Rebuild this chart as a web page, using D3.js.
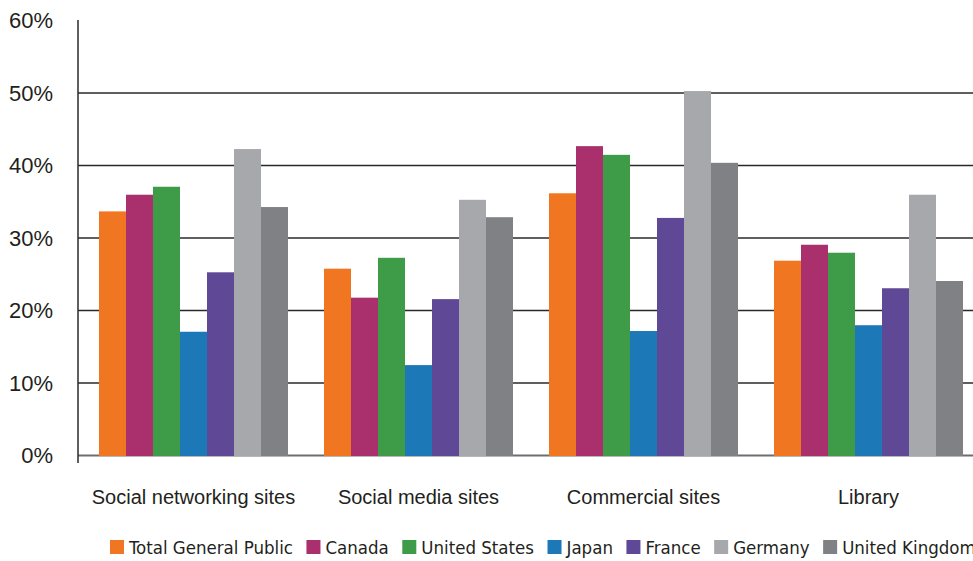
<!DOCTYPE html>
<html>
<head>
<meta charset="utf-8">
<script src="https://cdn.jsdelivr.net/npm/d3@7"></script>
<style>
  body { margin: 0; background: #fff; }
  text { font-family: "Liberation Sans Narrow", "DejaVu Sans Condensed", "Open Sans", sans-serif; fill: #231f20; }
</style>
</head>
<body>
<div id="chart"></div>
<script>
let categories = ['Social networking sites', 'Social media sites', 'Commercial sites', 'Library'];
let series = ['Total General Public', 'Canada', 'United States', 'Japan', 'France', 'Germany', 'United Kingdom'];
let colors = ['#f07622', '#a92f6d', '#3e9b47', '#1c78b7', '#5f4896', '#a7a8ac', '#808184'];

// one row per series, one value per category (percent)
let totalPublic = [33.6, 25.7, 36.1, 26.8];
let canada = [35.9, 21.7, 42.6, 29.0];
let unitedStates = [37.0, 27.2, 41.4, 27.9];
let japan = [17.0, 12.4, 17.1, 17.9];
let france = [25.2, 21.5, 32.7, 23.0];
let germany = [42.2, 35.2, 50.2, 35.9];
let unitedKingdom = [34.2, 32.8, 40.3, 24.0];
let values = [totalPublic, canada, unitedStates, japan, france, germany, unitedKingdom];

let yTicks = [0, 10, 20, 30, 40, 50, 60];

let width = 973;
let height = 561;
let margin = { top: 20, right: 0, bottom: 106, left: 78 };

let svg = d3.select('#chart').append('svg')
    .attr('width', width)
    .attr('height', height);

let y = d3.scaleLinear()
    .domain([0, 60])
    .range([height - margin.bottom, margin.top]);

let x0 = d3.scaleBand()
    .domain(categories)
    .range([margin.left + 3, margin.left + 903])
    .paddingInner(0.16)
    .paddingOuter(0.08);

let x1 = d3.scaleBand()
    .domain(series)
    .range([0, x0.bandwidth()]);

// gridlines + ticks
let yAxis = svg.append('g')
    .attr('transform', `translate(${margin.left},0)`)
    .call(d3.axisLeft(y).tickValues(yTicks).tickFormat(d => d + '%').tickSize(12).tickSizeOuter(0));

yAxis.select('.domain').remove();
yAxis.selectAll('.tick line')
    .attr('stroke', '#2b2829')
    .attr('stroke-width', 1.5)
    .attr('x2', d => d === 60 ? 0 : width - margin.left);
yAxis.selectAll('.tick line').filter(d => d === 0)
    .attr('stroke', '#6d6e71')
    .attr('stroke-width', 2);
yAxis.selectAll('.tick text')
    .attr('x', -25)
    .attr('dy', '0.36em')
    .style('font-size', '22px')
    .style('font-family', 'inherit');

// vertical axis line
svg.append('line')
    .attr('x1', margin.left).attr('x2', margin.left)
    .attr('y1', y(60)).attr('y2', y(0) + 8)
    .attr('stroke', '#2b2829')
    .attr('stroke-width', 1.5);

// bars
let group = svg.append('g').selectAll('g')
    .data(categories)
    .join('g')
        .attr('transform', d => `translate(${x0(d)},0)`);

group.selectAll('rect')
    .data((c, ci) => series.map((s, si) => ({ s: s, i: si, v: values[si][ci] })))
    .join('rect')
        .attr('x', d => x1(d.s))
        .attr('y', d => y(d.v))
        .attr('width', x1.bandwidth())
        .attr('height', d => y(0) - y(d.v) + 1)
        .attr('fill', d => colors[d.i]);

// category labels
svg.append('g')
    .attr('transform', `translate(0,${y(0)})`)
    .call(d3.axisBottom(x0).tickSize(0))
    .call(g => g.select('.domain').remove())
    .selectAll('text')
        .attr('y', 35)
        .style('font-size', '20px')
        .style('font-family', 'inherit');

// legend
let legend = svg.append('g').attr('transform', 'translate(110,548)');
let lx = 0;
series.forEach((s, i) => {
    let item = legend.append('g').attr('transform', `translate(${lx},0)`);
    item.append('rect')
        .attr('x', 0).attr('y', -8)
        .attr('width', 14).attr('height', 14)
        .attr('fill', colors[i]);
    let t = item.append('text')
        .attr('x', 19).attr('y', 0)
        .attr('dy', '0.35em')
        .style('font-size', '18.5px')
        .text(s);
    lx += 19 + t.node().getComputedTextLength() + 13.5;
});
</script>
</body>
</html>
